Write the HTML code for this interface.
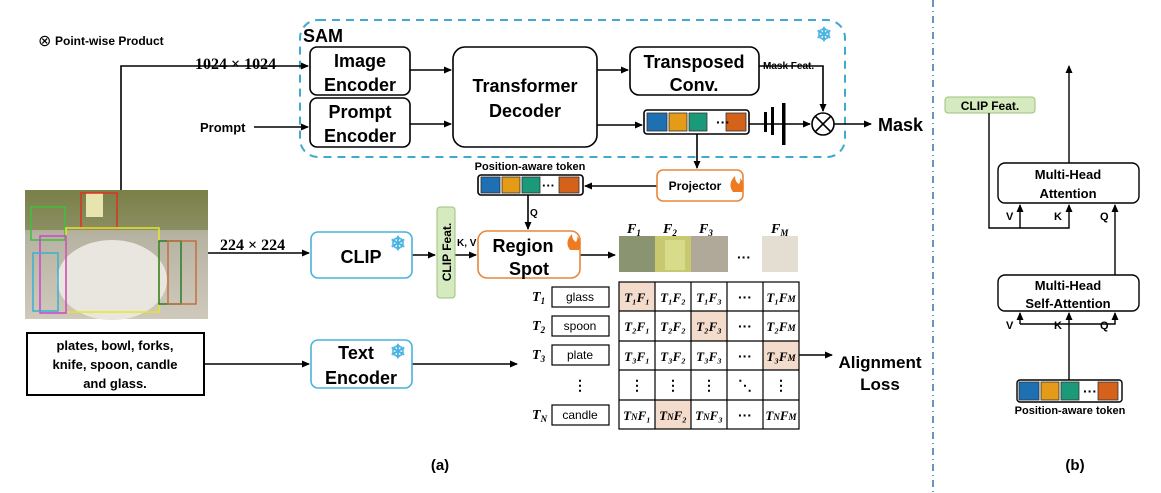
<!DOCTYPE html>
<html><head><meta charset="utf-8"><style>
body{margin:0;background:#fff;}
svg{display:block;font-family:"Liberation Sans",sans-serif;font-weight:bold;}
.s{font-family:"Liberation Serif",serif;font-weight:bold;}
</style></head><body>
<svg width="1161" height="493" viewBox="0 0 1161 493" xmlns="http://www.w3.org/2000/svg">
<defs>
<marker id="a" markerWidth="8" markerHeight="8" refX="7" refY="4" orient="auto" markerUnits="userSpaceOnUse"><path d="M0,0.5 L8,4 L0,7.5z" fill="#000"/></marker>
<linearGradient id="img" x1="0" y1="0" x2="0" y2="1"><stop offset="0" stop-color="#8a8a5a"/><stop offset="0.35" stop-color="#b7b3a2"/><stop offset="1" stop-color="#cfc9bb"/></linearGradient>
</defs>
<g stroke="#000" stroke-width="1.6" fill="none">
<rect x="300" y="20" width="545" height="137" rx="18" stroke="#3fa9cf" stroke-dasharray="8,6" stroke-width="2"/>
<rect x="310" y="47" width="100" height="48" rx="7"/>
<rect x="310" y="98" width="100" height="49" rx="7"/>
<rect x="453" y="47" width="144" height="100" rx="12"/>
<rect x="630" y="47" width="129" height="48" rx="9"/>
<rect x="644" y="110" width="105" height="24" rx="3"/>
<circle cx="823" cy="124" r="11"/>
<path d="M815,116 L831,132 M831,116 L815,132"/>
<path d="M121,190 V66 H308" marker-end="url(#a)"/>
<path d="M254,127 H308" marker-end="url(#a)"/>
<path d="M410,70 H451" marker-end="url(#a)"/>
<path d="M410,124 H451" marker-end="url(#a)"/>
<path d="M597,70 H628" marker-end="url(#a)"/>
<path d="M597,125 H642" marker-end="url(#a)"/>
<path d="M759,66 H823 V111" marker-end="url(#a)"/>
<path d="M749,124 H810" marker-end="url(#a)"/>
<path d="M834,124 H871" marker-end="url(#a)"/>
<path d="M697,134 V168" marker-end="url(#a)"/>
<path d="M657,186 H585" marker-end="url(#a)"/>
<path d="M528,195 V229" marker-end="url(#a)"/>
<path d="M208,253 H309" marker-end="url(#a)"/>
<path d="M412,255 H435" marker-end="url(#a)"/>
<path d="M455,255 H476" marker-end="url(#a)"/>
<path d="M580,255 H615" marker-end="url(#a)"/>
<path d="M204,364 H309" marker-end="url(#a)"/>
<path d="M412,364 H517" marker-end="url(#a)"/>
<path d="M799,355 H832" marker-end="url(#a)"/>
<rect x="657" y="170" width="86" height="31" rx="6" stroke="#e8873a"/>
<rect x="478" y="175" width="105" height="20" rx="3"/>
<rect x="311" y="232" width="101" height="46" rx="7" stroke="#4ab3d8"/>
<rect x="311" y="340" width="101" height="48" rx="7" stroke="#4ab3d8"/>
<rect x="478" y="231" width="102" height="47" rx="9" stroke="#e8873a"/>
<rect x="27" y="333" width="177" height="62" stroke-width="2"/>
</g>
<rect x="437" y="207" width="18" height="91" rx="3" fill="#d6eac0" stroke="#9cc27c"/>
<text transform="translate(451,252) rotate(-90)" font-size="12" text-anchor="middle">CLIP Feat.</text>
<g fill="#000"><rect x="764" y="112" width="3" height="20"/><rect x="771" y="107" width="3" height="28"/><rect x="782" y="103" width="3.5" height="42"/></g>
<g stroke="#333" stroke-width="0.8">
<rect x="647" y="113" width="20" height="18" fill="#1f6fb3"/><rect x="669" y="113" width="18" height="18" fill="#e39b18"/><rect x="689" y="113" width="18" height="18" fill="#1b9a7a"/><rect x="726" y="113" width="20" height="18" fill="#d4621a"/>
<rect x="481" y="177" width="19" height="16" fill="#1f6fb3"/><rect x="502" y="177" width="18" height="16" fill="#e39b18"/><rect x="522" y="177" width="18" height="16" fill="#1b9a7a"/><rect x="559" y="177" width="20" height="16" fill="#d4621a"/>
<rect x="1019" y="382" width="20" height="18" fill="#1f6fb3"/><rect x="1041" y="382" width="18" height="18" fill="#e39b18"/><rect x="1061" y="382" width="18" height="18" fill="#1b9a7a"/><rect x="1098" y="382" width="20" height="18" fill="#d4621a"/>
</g>
<rect x="1017" y="380" width="105" height="22" rx="3" fill="none" stroke="#000" stroke-width="1.4"/>
<text x="716" y="127" font-size="14">···</text><text x="542" y="190" font-size="13">···</text><text x="1083" y="396" font-size="14">···</text>
<rect x="25" y="190" width="183" height="129" fill="url(#img)"/>
<rect x="25" y="190" width="183" height="40" fill="#6f7a3c" opacity="0.6"/>
<ellipse cx="112" cy="280" rx="55" ry="40" fill="#e9e6e0"/>
<rect x="86" y="193" width="17" height="24" fill="#e8e4b0"/>
<g fill="none" stroke-width="1.5">
<rect x="31" y="207" width="34" height="33" stroke="#3fbf3f"/><rect x="81" y="193" width="36" height="35" stroke="#e03020"/>
<rect x="66" y="228" width="93" height="84" stroke="#e6e62a"/><rect x="40" y="236" width="26" height="77" stroke="#cc44cc"/>
<rect x="33" y="253" width="25" height="58" stroke="#3ab0d0"/><rect x="159" y="241" width="22" height="63" stroke="#2a7a2a"/><rect x="168" y="241" width="28" height="63" stroke="#c07040"/>
</g>
<rect x="619" y="236" width="36" height="36" fill="#8a9470"/><rect x="655" y="236" width="36" height="36" fill="#c8c870"/><rect x="665" y="240" width="20" height="30" fill="#d8dc8a"/>
<rect x="691" y="236" width="37" height="36" fill="#b0a898"/><rect x="762" y="236" width="36" height="36" fill="#e4ddd2"/>
<text x="737" y="262" font-size="14">···</text>
<g class="s" font-size="14" font-style="italic"><text x="627" y="233">F<tspan font-size="9" dy="3">1</tspan></text><text x="663" y="233">F<tspan font-size="9" dy="3">2</tspan></text><text x="699" y="233">F<tspan font-size="9" dy="3">3</tspan></text><text x="771" y="233">F<tspan font-size="9" dy="3">M</tspan></text></g>
<g fill="#f4dccd"><rect x="619" y="282" width="36" height="29"/><rect x="691" y="311" width="36" height="30"/><rect x="763" y="341" width="36" height="29"/><rect x="655" y="400" width="36" height="29"/></g>
<g stroke="#000" stroke-width="1.2" fill="none">
<rect x="619" y="282" width="180" height="147"/>
<path d="M655,282V429M691,282V429M727,282V429M763,282V429M619,311H799M619,341H799M619,370H799M619,400H799"/>
<rect x="552" y="287" width="57" height="20"/><rect x="552" y="316" width="57" height="20"/><rect x="552" y="345" width="57" height="20"/><rect x="552" y="405" width="57" height="20"/>
</g>
<g font-size="12" text-anchor="middle" font-weight="normal"><text x="580" y="301">glass</text><text x="580" y="330">spoon</text><text x="580" y="359">plate</text><text x="580" y="419">candle</text></g>
<g class="s" font-size="14" font-style="italic">
<text x="532" y="301">T<tspan font-size="9" dy="3">1</tspan></text><text x="532" y="330">T<tspan font-size="9" dy="3">2</tspan></text><text x="532" y="359">T<tspan font-size="9" dy="3">3</tspan></text><text x="532" y="419">T<tspan font-size="9" dy="3">N</tspan></text>
</g>
<g class="s" font-size="13" font-style="italic" text-anchor="middle">
<text x="637" y="302">T₁F₁</text><text x="673" y="302">T₁F₂</text><text x="709" y="302">T₁F₃</text><text x="781" y="302">T₁F<tspan font-size="9">M</tspan></text>
<text x="637" y="331">T₂F₁</text><text x="673" y="331">T₂F₂</text><text x="709" y="331">T₂F₃</text><text x="781" y="331">T₂F<tspan font-size="9">M</tspan></text>
<text x="637" y="361">T₃F₁</text><text x="673" y="361">T₃F₂</text><text x="709" y="361">T₃F₃</text><text x="781" y="361">T₃F<tspan font-size="9">M</tspan></text>
<text x="637" y="420">T<tspan font-size="9">N</tspan>F₁</text><text x="673" y="420">T<tspan font-size="9">N</tspan>F₂</text><text x="709" y="420">T<tspan font-size="9">N</tspan>F₃</text><text x="781" y="420">T<tspan font-size="9">N</tspan>F<tspan font-size="9">M</tspan></text>
</g>
<g font-size="14" text-anchor="middle"><text x="745" y="302">···</text><text x="745" y="331">···</text><text x="745" y="361">···</text><text x="745" y="420">···</text>
<text x="637" y="390">⋮</text><text x="673" y="390">⋮</text><text x="709" y="390">⋮</text><text x="745" y="390">⋱</text><text x="781" y="390">⋮</text><text x="580" y="390">⋮</text></g>
<text x="38" y="46" font-size="16" font-weight="normal">⊗</text><text x="55" y="45" font-size="12">Point-wise Product</text>
<text x="303" y="42" font-size="18">SAM</text>
<text x="195" y="69" class="s" font-size="16">1024 × 1024</text>
<text x="200" y="132" font-size="13">Prompt</text>
<g font-size="18" text-anchor="middle">
<text x="360" y="67">Image</text><text x="360" y="91">Encoder</text>
<text x="360" y="118">Prompt</text><text x="360" y="142">Encoder</text>
<text x="525" y="92">Transformer</text><text x="525" y="117">Decoder</text>
<text x="694" y="68">Transposed</text><text x="694" y="91">Conv.</text>
<text x="361" y="263">CLIP</text>
<text x="356" y="359">Text</text><text x="361" y="384">Encoder</text>
<text x="523" y="252">Region</text><text x="529" y="275">Spot</text>
</g>
<g font-size="17" text-anchor="middle"><text x="880" y="368">Alignment</text><text x="880" y="390">Loss</text></g>
<text x="878" y="131" font-size="18">Mask</text>
<text x="763" y="69" font-size="10">Mask Feat.</text>
<text x="695" y="190" font-size="12" text-anchor="middle">Projector</text>
<text x="530" y="170" font-size="11" text-anchor="middle">Position-aware token</text>
<text x="530" y="216" font-size="10">Q</text>
<text x="457" y="246" font-size="10">K, V</text>
<text x="220" y="250" class="s" font-size="16">224 × 224</text>
<g font-size="13" text-anchor="middle"><text x="115" y="350">plates, bowl, forks,</text><text x="115" y="369">knife, spoon, candle</text><text x="115" y="388">and glass.</text></g>
<g fill="#4ab3e0" font-size="19"><text x="816" y="41">❄</text><text x="390" y="250">❄</text><text x="390" y="358">❄</text></g>
<g fill="#f07a20"><path d="M570,250 q-6,-8 2,-16 q0,6 4,8 q2,-3 1,-6 q6,6 2,14z"/><path d="M733,192 q-6,-8 2,-16 q0,6 4,8 q2,-3 1,-6 q6,6 2,14z"/></g>
<text x="440" y="470" font-size="15" text-anchor="middle">(a)</text>
<text x="1075" y="470" font-size="15" text-anchor="middle">(b)</text>
<line x1="933" y1="0" x2="933" y2="493" stroke="#3b6ea8" stroke-width="1.5" stroke-dasharray="7,4,1,4"/>
<rect x="945" y="97" width="90" height="16" rx="3" fill="#d6eac0" stroke="#9cc27c"/>
<text x="990" y="110" font-size="12" text-anchor="middle">CLIP Feat.</text>
<g stroke="#000" stroke-width="1.4" fill="none">
<rect x="998" y="163" width="141" height="40" rx="7"/>
<rect x="998" y="275" width="141" height="36" rx="7"/>
<path d="M1069,163 V66" marker-end="url(#a)"/>
<path d="M989,113 V228 H1069 V205" marker-end="url(#a)"/>
<path d="M1020,228 V205" marker-end="url(#a)"/>
<path d="M1115,275 V205" marker-end="url(#a)"/>
<path d="M1020,324 H1115 V313" marker-end="url(#a)"/>
<path d="M1020,324 V313" marker-end="url(#a)"/>
<path d="M1069,380 V313" marker-end="url(#a)"/>
</g>
<g font-size="13" text-anchor="middle"><text x="1068" y="179">Multi-Head</text><text x="1068" y="198">Attention</text><text x="1068" y="290">Multi-Head</text><text x="1068" y="308">Self-Attention</text></g>
<g font-size="11"><text x="1006" y="220">V</text><text x="1054" y="220">K</text><text x="1100" y="220">Q</text><text x="1006" y="329">V</text><text x="1054" y="329">K</text><text x="1100" y="329">Q</text></g>
<text x="1070" y="414" font-size="11" text-anchor="middle">Position-aware token</text>
</svg>
</body></html>
